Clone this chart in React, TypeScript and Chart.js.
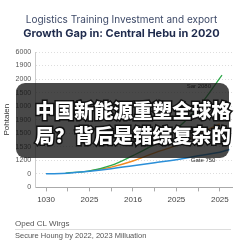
import React, { useEffect, useRef } from "react";
import { Chart, registerables } from "chart.js";

Chart.register(...registerables);

const titleLine1 = "Logistics Training Investment and export";
const titleLine2 = "Growth Gap in: Central Hebu in 2020";
const overlayLine1 = "中国新能源重塑全球格";
const overlayLine2 = "局？背后是错综复杂的";
const footerLine1 = "Oped CL Wirgs";
const footerLine2 = "Secure Houng by 2022, 2023 Milluation";
const yAxisTitle = "Pohtaien";

const xLabels = ["1030", "2025", "2016", "2025", "2025"];
const yTickLabels = ["0", "0", "1200", "1530", "1500", "1900", "1000", "1500", "2000", "1900", "6000"];

const blueX = [0, 0.5, 1, 1.5, 2, 2.5, 3, 3.5, 4, 4.22];
const blueY = [1.0, 1.05, 1.2, 1.38, 1.6, 1.82, 2.05, 2.33, 2.6, 2.8];
const greenX = [0.45, 1, 1.5, 2, 2.5, 3, 3.5, 4.05];
const greenY = [1.06, 1.22, 1.62, 2.35, 3.2, 4.3, 5.9, 8.3];
const orangeX = [1, 1.5, 2, 2.5, 3, 3.5, 4];
const orangeY = [1.22, 1.5, 1.95, 2.55, 3.1, 3.9, 4.7];

const blueName = "Gate 750";
const greenName = "Sar 2080";
const orangeName = "";

const pts = (xs: number[], ys: number[]) => xs.map((x, i) => ({ x, y: ys[i] }));

const labelPlugin = {
  id: "seriesLabels",
  afterDatasetsDraw(chart: any) {
    const ctx = chart.ctx;
    ctx.save();
    ctx.font = "6px 'Liberation Sans', Arial, sans-serif";
    ctx.fillStyle = "#222";
    const gMeta = chart.getDatasetMeta(1);
    const gEnd = gMeta.data[gMeta.data.length - 1];
    ctx.textAlign = "right";
    ctx.textBaseline = "middle";
    ctx.fillText(chart.data.datasets[1].label, gEnd.x - 11, gEnd.y + 11);
    const bMeta = chart.getDatasetMeta(0);
    const bp = bMeta.data[7];
    ctx.textAlign = "center";
    ctx.fillText(chart.data.datasets[0].label, bp.x + 5, bp.y + 4);
    ctx.restore();
  },
};

export default function App() {
  const ref = useRef<HTMLCanvasElement | null>(null);
  useEffect(() => {
    if (!ref.current) return;
    const chart = new Chart(ref.current, {
      type: "line",
      data: {
        datasets: [
          { label: blueName, data: pts(blueX, blueY), borderColor: "#2b8fd8", borderWidth: 1.5, pointRadius: 0, tension: 0.4, fill: false },
          { label: greenName, data: pts(greenX, greenY), borderColor: "#2ea84a", borderWidth: 1.3, pointRadius: 0, tension: 0.4, fill: false },
          { label: orangeName, data: pts(orangeX, orangeY), borderColor: "#f28a22", borderWidth: 1.4, pointRadius: 0, tension: 0.4, fill: false },
        ],
      },
      options: {
        animation: false,
        responsive: false,
        maintainAspectRatio: false,
        layout: { padding: { top: 52, right: 11, bottom: 34, left: 2 } },
        plugins: { legend: { display: false }, tooltip: { enabled: false } },
        scales: {
          x: {
            type: "linear",
            min: -0.25,
            max: 4.28,
            border: { color: "#aaa" },
            grid: { drawOnChartArea: false, tickLength: 4, color: "#aaa" },
            ticks: {
              stepSize: 0.5,
              includeBounds: false,
              autoSkip: false,
              maxRotation: 0,
              padding: 4,
              color: "#444",
              font: { size: 8, family: "'Liberation Sans', Arial, sans-serif" },
              callback: (v: any) => (Number.isInteger(v) ? xLabels[v] ?? "" : ""),
            },
          },
          y: {
            min: 0,
            max: 10,
            border: { color: "#ccc", dash: [1, 2] },
            grid: { color: "#ddd", drawTicks: false },
            title: {
              display: true,
              text: yAxisTitle,
              color: "#333",
              font: { size: 8, family: "'Liberation Sans', Arial, sans-serif" },
              padding: 0,
            },
            ticks: {
              stepSize: 1,
              padding: 4,
              color: "#555",
              font: { size: 7, family: "'Liberation Sans', Arial, sans-serif" },
              callback: (v: any) => yTickLabels[v] ?? "",
            },
          },
        },
      },
      plugins: [labelPlugin],
    } as any);
    return () => chart.destroy();
  }, []);

  return (
    <div
      style={{
        position: "fixed",
        left: 0,
        top: 0,
        width: 243,
        height: 243,
        background: "#fff",
        overflow: "hidden",
        fontFamily: "Inter, 'Liberation Sans', sans-serif",
      }}
    >
      <canvas ref={ref} width={243} height={243} style={{ position: "absolute", left: 0, top: 0 }} />
      <div
        style={{
          position: "absolute", left: 0, width: 243, top: 13, textAlign: "center",
          fontSize: 10, color: "#3e4a68", lineHeight: "13px", whiteSpace: "nowrap",
        }}
      >
        {titleLine1}
      </div>
      <div
        style={{
          position: "absolute", left: 0, width: 243, top: 26, textAlign: "center",
          fontSize: 11, fontWeight: 700, color: "#1f2b4d", lineHeight: "14px", whiteSpace: "nowrap",
        }}
      >
        {titleLine2}
      </div>
      <div
        style={{
          position: "absolute", left: 16, top: 83, width: 213, height: 75,
          borderRadius: 9, background: "rgba(22,22,22,0.78)",
        }}
      />
      <div
        style={{
          position: "absolute", left: 35, top: 97, width: 205,
          fontFamily: "'Noto Sans CJK SC', sans-serif", fontWeight: 900, fontSize: 19.6,
          lineHeight: "25px", color: "#fff", WebkitTextStroke: "3px #111",
          paintOrder: "stroke fill", whiteSpace: "nowrap",
        } as any}
      >
        <div>{overlayLine1}</div>
        <div>{overlayLine2}</div>
      </div>
      <div
        style={{
          position: "absolute", left: 15, top: 219, fontSize: 8, color: "#555",
          fontFamily: "'Liberation Sans', Arial, sans-serif", whiteSpace: "nowrap",
        }}
      >
        {footerLine1}
      </div>
      <div style={{ position: "absolute", left: 15, top: 229, width: 216, height: 1, background: "#ddd" }} />
      <div
        style={{
          position: "absolute", left: 15, top: 231, fontSize: 7.5, color: "#555",
          fontFamily: "'Liberation Sans', Arial, sans-serif", whiteSpace: "nowrap",
        }}
      >
        {footerLine2}
      </div>
    </div>
  );
}
